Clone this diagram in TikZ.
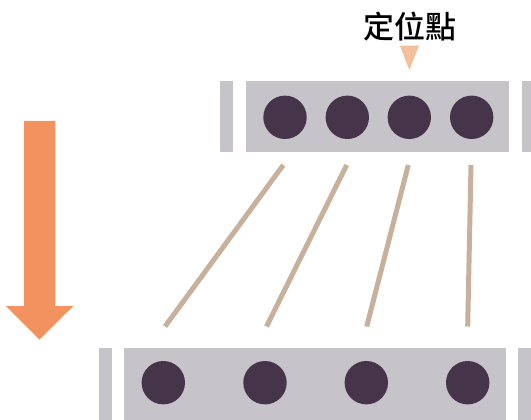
\documentclass[tikz,border=0pt]{standalone}
\usepackage{fontspec}
\newfontfamily\cjk{Noto Sans CJK TC}[UprightFont={* Medium}]
\definecolor{bargray}{HTML}{C6C4C9}
\definecolor{dotpurple}{HTML}{46344A}
\definecolor{linktan}{HTML}{C8B19C}
\definecolor{markpeach}{HTML}{F2C09A}
\definecolor{arroworange}{HTML}{F2935F}
\begin{document}
\begin{tikzpicture}[x=1pt,y=-1pt,
  bar/.style={fill=bargray,draw=none},
  dot/.style={circle,fill=dotpurple,draw=none,minimum size=43.4pt,inner sep=0pt},
  link/.style={draw=linktan,line width=5pt},
]
\useasboundingbox (0,0) rectangle (531,420);
% top strip
\fill[bar] (220,81) rectangle (232.7,151.7);
\fill[bar] (246,81) rectangle (509.3,151.7);
\fill[bar] (522,81) rectangle (531,151.7);
% bottom strip
\fill[bar] (99,348) rectangle (112,420);
\fill[bar] (124,348) rectangle (506,420);
\fill[bar] (518.3,348) rectangle (531,420);
% dots
\node[dot] (t1) at (285,117.3) {};
\node[dot] (t2) at (347.3,117.3) {};
\node[dot] (t3) at (409.3,117.3) {};
\node[dot] (t4) at (471.7,117.3) {};
\node[dot] (b1) at (163.3,382.7) {};
\node[dot] (b2) at (265,382.7) {};
\node[dot] (b3) at (366.3,382.7) {};
\node[dot] (b4) at (467.7,382.7) {};
% link ends
\coordinate (u1) at (283.3,165);
\coordinate (u2) at (346.7,165);
\coordinate (u3) at (408.3,165);
\coordinate (u4) at (471,165);
\coordinate (d1) at (165,326.5);
\coordinate (d2) at (266.5,326.5);
\coordinate (d3) at (366.7,326.5);
\coordinate (d4) at (467.7,326.5);
\draw[link] (u1) -- (d1);
\draw[link] (u2) -- (d2);
\draw[link] (u3) -- (d3);
\draw[link] (u4) -- (d4);
% label and marker
\node[font=\cjk\fontsize{31}{33}\selectfont,inner sep=0pt] (lab) at (409.7,26.5) {定位點};
\fill[markpeach] (400,45.7) -- (419,45.7) -- (409.3,70) -- cycle;
% big arrow
\fill[arroworange] (24,121) -- (55.3,121) -- (55.3,306) -- (73.3,306) -- (39.5,339.5) -- (6,306) -- (24,306) -- cycle;
\end{tikzpicture}
\end{document}
